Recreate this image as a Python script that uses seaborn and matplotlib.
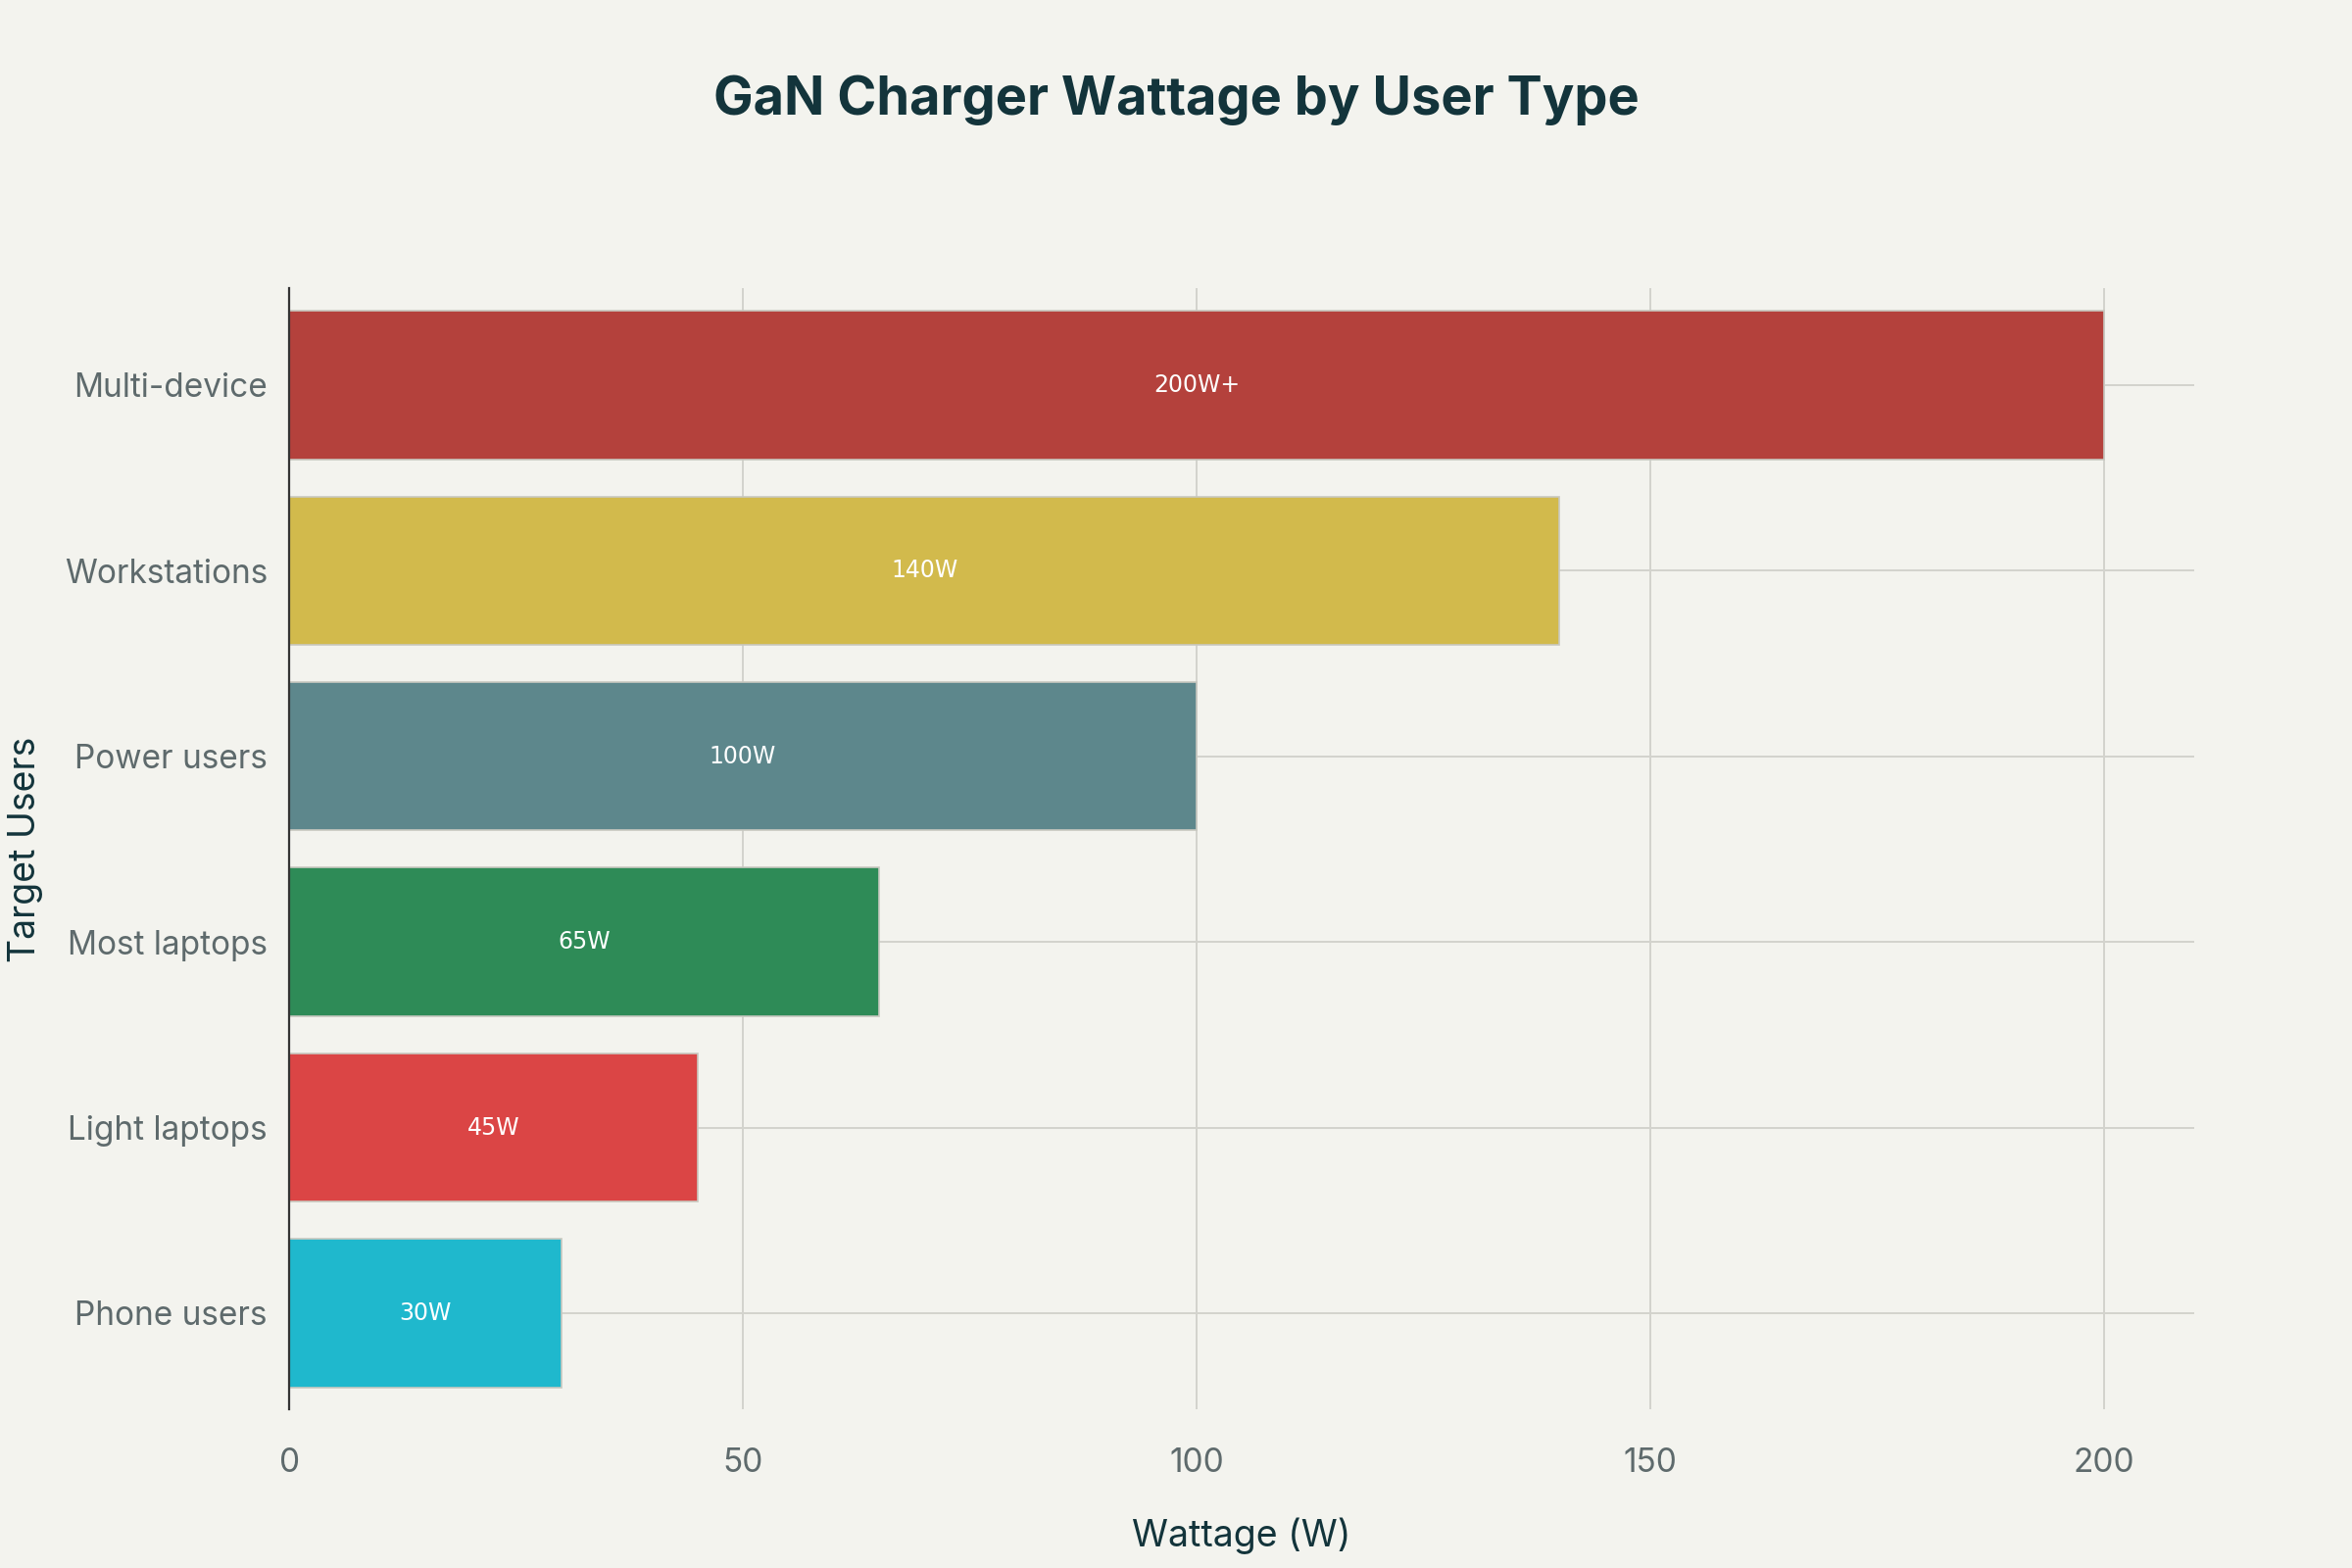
import matplotlib
matplotlib.use("Agg")
import matplotlib.pyplot as plt
import seaborn as sns
import pandas as pd

# data, top to bottom as shown
users = ["Multi-device", "Workstations", "Power users", "Most laptops", "Light laptops", "Phone users"]
watts = [200, 140, 100, 65, 45, 30]
labels = ["200W+", "140W", "100W", "65W", "45W", "30W"]
colors = ["#B4413C", "#D2BA4C", "#5D878C", "#2E8B57", "#DB4545", "#1FB8CD"]

bg = "#F3F3EE"
dark = "#13343B"
gray = "#5E6A6C"
grid = "#D3D3CD"

sns.set_theme(style="white")
plt.rcParams["font.family"] = ["Inter", "DejaVu Sans"]

df = pd.DataFrame({"user": users, "watt": watts})

fig = plt.figure(figsize=(12, 8), dpi=200, facecolor=bg)
ax = fig.add_axes([0.123, 0.101, 0.81, 0.715])
ax.set_facecolor(bg)

sns.barplot(data=df, y="user", x="watt", hue="user", palette=colors,
            order=users, hue_order=users, width=0.8, legend=False,
            saturation=1, edgecolor="#C8C8C0", linewidth=0.6, ax=ax, zorder=2)

# labels inside bars
for i, (w, lab) in enumerate(zip(watts, labels)):
    ax.text(w / 2, i, lab, ha="center", va="center", color="white",
            fontsize=8.5, family="DejaVu Sans", zorder=4)

ax.set_xlim(0, 210)
ax.set_ylim(len(users) - 0.5 + 0.02, -0.5 - 0.02)
ax.set_xticks([0, 50, 100, 150, 200])
ax.grid(axis="x", color=grid, linewidth=0.7, zorder=0)
for i in range(len(users)):
    ax.axhline(i, color=grid, linewidth=0.7, zorder=1)

for s in ["top", "right", "bottom"]:
    ax.spines[s].set_visible(False)
ax.spines["left"].set_color("#333333")
ax.spines["left"].set_linewidth(0.8)

ax.tick_params(axis="y", length=4, color=grid, labelsize=12, labelcolor=gray, pad=4)
ax.tick_params(axis="x", length=4, color=grid, labelsize=12, labelcolor=gray, pad=10, direction="out")

ax.set_xlabel("Wattage (W)", fontsize=13.5, color=dark, labelpad=14)
ax.set_ylabel("Target Users", fontsize=13.5, color=dark, labelpad=8)

fig.suptitle("GaN Charger Wattage by User Type", x=0.5, y=0.952, fontsize=19.5,
             fontweight="bold", color=dark)

fig.savefig("out.png", dpi=200, facecolor=bg)
